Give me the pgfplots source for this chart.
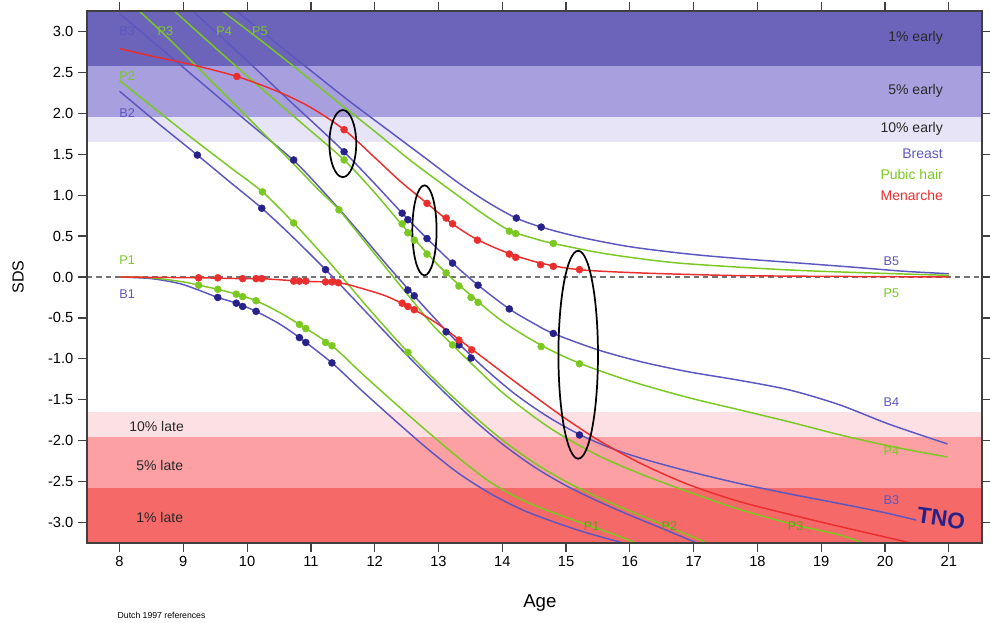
\documentclass[border=0pt]{standalone}
\usepackage{pgfplots}
\pgfplotsset{compat=1.18}
\usepackage{fontspec}
\setmainfont{Liberation Sans}

\definecolor{lineblue}{RGB}{92,86,192}
\definecolor{dotblue}{RGB}{38,34,138}
\definecolor{lgreen}{RGB}{122,200,32}
\definecolor{lred}{RGB}{234,46,46}
\definecolor{earlyA}{RGB}{108,100,186}
\definecolor{earlyB}{RGB}{168,160,222}
\definecolor{earlyC}{RGB}{230,228,246}
\definecolor{lateC}{RGB}{253,224,228}
\definecolor{lateB}{RGB}{252,160,164}
\definecolor{lateA}{RGB}{245,105,105}
\definecolor{bandtext}{RGB}{40,40,40}

\begin{document}
\begin{tikzpicture}
\begin{axis}[
  scale only axis, width=671.25pt, height=399pt,
  xmin=7.49, xmax=21.52, ymin=-3.25, ymax=3.25,
  axis on top,
  xtick={8,...,21}, ytick={-3,-2.5,...,3},
  yticklabel style={/pgf/number format/fixed, /pgf/number format/fixed zerofill, /pgf/number format/precision=1},
  /pgf/number format/assume math mode=true,
  tick align=outside, tick pos=both, major tick length=6.75pt,
  axis line style={draw=black!75, line width=1.1pt},
  tick style={black!75, line width=0.9pt},
  ticklabel style={font=\fontsize{11}{13}\selectfont},
  xlabel={Age}, ylabel={SDS},
  xlabel style={font=\fontsize{14}{16}\selectfont, at={(axis description cs:0.506,0)}, anchor=center, yshift=-45pt},
  ylabel style={font=\fontsize{12}{14}\selectfont, at={([xshift=-51.75pt]axis description cs:0,0.5)}, anchor=center},
  curve/.style={smooth, tension=0.5, line width=1.1pt, no marks},
  dots/.style={only marks, mark=*, mark size=2.6pt},
]
% reference bands
\addplot[fill=earlyA, draw=none] coordinates {(7.49,2.576) (21.52,2.576) (21.52,3.25) (7.49,3.25)} -- cycle;
\addplot[fill=earlyB, draw=none] coordinates {(7.49,1.96) (21.52,1.96) (21.52,2.576) (7.49,2.576)} -- cycle;
\addplot[fill=earlyC, draw=none] coordinates {(7.49,1.645) (21.52,1.645) (21.52,1.96) (7.49,1.96)} -- cycle;
\addplot[fill=lateC, draw=none] coordinates {(7.49,-1.645) (21.52,-1.645) (21.52,-1.96) (7.49,-1.96)} -- cycle;
\addplot[fill=lateB, draw=none] coordinates {(7.49,-1.96) (21.52,-1.96) (21.52,-2.576) (7.49,-2.576)} -- cycle;
\addplot[fill=lateA, draw=none] coordinates {(7.49,-2.576) (21.52,-2.576) (21.52,-3.25) (7.49,-3.25)} -- cycle;
\addplot[black!55, line width=1pt, dash pattern=on 4pt off 3pt] coordinates {(7.49,0) (21.52,0)};

% breast stages
\addplot[curve, lineblue] coordinates {(8,0) (8.5,-0.02) (8.94,-0.08) (9.24,-0.16) (9.54,-0.25) (9.83,-0.32) (10.14,-0.42) (10.5,-0.57) (10.82,-0.74) (11.33,-1.05) (11.8,-1.39) (12.3,-1.74) (12.8,-2.08) (13.3,-2.39) (13.8,-2.64) (14.3,-2.84) (14.8,-2.99) (15.3,-3.12) (15.9,-3.25)};
\addplot[curve, lineblue] coordinates {(8,2.27) (8.6,1.88) (9.22,1.49) (9.7,1.18) (10.23,0.84) (10.7,0.5) (11.23,0.09) (11.6,-0.21) (12.0,-0.54) (12.5,-0.95) (13.0,-1.34) (13.5,-1.71) (14.0,-2.04) (14.5,-2.32) (15.0,-2.55) (15.5,-2.74) (16.0,-2.91) (16.5,-3.07) (17.05,-3.25)};
\addplot[curve, lineblue] coordinates {(8,3.22) (9,2.56) (10,1.9) (10.72,1.43) (11.2,1.04) (11.7,0.6) (12.2,0.14) (12.7,-0.3) (13.2,-0.72) (13.7,-1.1) (14.2,-1.43) (14.7,-1.7) (15.2,-1.92) (15.7,-2.09) (16.2,-2.22) (16.9,-2.37) (17.7,-2.52) (18.5,-2.65) (19.3,-2.77) (20.0,-2.88) (20.49,-2.97)};
\addplot[curve, lineblue] coordinates {(9.15,3.25) (9.6,2.93) (10.1,2.57) (10.6,2.2) (11.1,1.84) (11.52,1.53) (12.0,1.14) (12.43,0.78) (12.82,0.47) (13.22,0.17) (13.62,-0.10) (14.11,-0.39) (14.5,-0.57) (14.80,-0.69) (15.5,-0.89) (16.2,-1.04) (16.93,-1.16) (17.7,-1.26) (18.5,-1.38) (19.28,-1.56) (20.07,-1.80) (20.98,-2.04)};
\addplot[curve, lineblue] coordinates {(9.83,3.25) (10.5,2.83) (11.0,2.52) (11.6,2.15) (12.2,1.8) (12.8,1.45) (13.33,1.14) (13.8,0.9) (14.22,0.72) (14.61,0.61) (15.2,0.49) (16.0,0.37) (16.93,0.28) (17.8,0.22) (18.66,0.17) (19.5,0.12) (20.3,0.07) (21,0.04)};

% pubic hair stages
\addplot[curve, lgreen] coordinates {(8,0) (8.5,-0.01) (9.0,-0.06) (9.24,-0.10) (9.54,-0.15) (9.83,-0.21) (10.14,-0.29) (10.5,-0.43) (10.82,-0.58) (11.33,-0.84) (11.8,-1.18) (12.3,-1.53) (12.8,-1.87) (13.3,-2.2) (13.8,-2.5) (14.3,-2.72) (14.8,-2.88) (15.3,-3.02) (15.7,-3.13) (16.1,-3.25)};
\addplot[curve, lgreen] coordinates {(8,2.4) (9,1.78) (9.7,1.36) (10.24,1.04) (10.73,0.66) (11.3,0.17) (11.9,-0.38) (12.52,-0.92) (13.0,-1.3) (13.5,-1.66) (14.0,-1.99) (14.5,-2.27) (15.0,-2.5) (15.5,-2.69) (16.0,-2.86) (16.5,-3.02) (17.0,-3.18) (17.2,-3.25)};
\addplot[curve, lgreen] coordinates {(8.31,3.25) (8.72,2.95) (9.2,2.58) (9.7,2.19) (10.2,1.8) (10.73,1.38) (11.1,1.08) (11.44,0.82) (11.95,0.33) (12.5,-0.2) (12.9,-0.58) (13.22,-0.83) (13.6,-1.12) (14.0,-1.41) (14.5,-1.71) (14.9,-1.92) (15.5,-2.18) (16.15,-2.4) (16.9,-2.62) (17.72,-2.84) (18.6,-3.03) (19.28,-3.15) (19.65,-3.25)};
\addplot[curve, lgreen] coordinates {(8.86,3.25) (9.5,2.8) (10.2,2.32) (10.9,1.85) (11.52,1.43) (12.0,1.03) (12.5,0.57) (13.0,0.14) (13.5,-0.22) (14.0,-0.54) (14.6,-0.83) (15.2,-1.05) (16.0,-1.27) (16.9,-1.47) (17.7,-1.62) (18.5,-1.77) (19.3,-1.93) (20.1,-2.07) (20.98,-2.2)};
\addplot[curve, lgreen] coordinates {(9.61,3.25) (10.2,2.9) (10.8,2.53) (11.4,2.15) (12.0,1.78) (12.6,1.4) (13.33,0.98) (13.7,0.77) (14.11,0.57) (14.5,0.47) (14.8,0.41) (15.5,0.3) (16.2,0.22) (16.93,0.16) (18.66,0.08) (21,0.02)};

% menarche
\addplot[curve, lred] coordinates {(8,2.79) (8.5,2.7) (9.1,2.6) (9.84,2.45) (10.5,2.26) (11.0,2.07) (11.52,1.80) (12.0,1.46) (12.4,1.17) (12.82,0.90) (13.2,0.66) (13.6,0.46) (14.1,0.29) (14.6,0.17) (15.2,0.09) (16.15,0.05) (17.5,0.02) (18.66,0.01) (21,0.0)};
\addplot[curve, lred] coordinates {(8,0) (9.24,-0.01) (9.93,-0.02) (10.23,-0.02) (10.82,-0.05) (11.43,-0.07) (11.8,-0.14) (12.2,-0.24) (12.62,-0.40) (13.0,-0.58) (13.52,-0.88) (14.2,-1.28) (14.9,-1.68) (15.5,-1.99) (16.15,-2.27) (16.9,-2.53) (17.7,-2.74) (18.5,-2.9) (19.3,-3.05) (20.41,-3.25)};

% observed points
\addplot[dots, dotblue] coordinates {(9.22,1.49) (10.23,0.84) (11.23,0.09) (10.73,1.43) (12.52,-0.16) (12.62,-0.23) (13.12,-0.67) (13.32,-0.83) (13.51,-0.99) (15.21,-1.93) (11.52,1.53) (12.43,0.78) (12.52,0.70) (12.82,0.47) (13.22,0.17) (13.62,-0.10) (14.11,-0.39) (14.80,-0.69) (14.22,0.72) (14.61,0.61) (9.54,-0.25) (9.83,-0.32) (9.93,-0.36) (10.14,-0.42) (10.82,-0.74) (10.92,-0.80) (11.33,-1.05)};
\addplot[dots, lgreen] coordinates {(9.24,-0.10) (9.54,-0.15) (9.83,-0.21) (9.93,-0.24) (10.14,-0.29) (10.82,-0.58) (10.92,-0.63) (11.23,-0.80) (11.33,-0.84) (10.24,1.04) (10.73,0.66) (12.52,-0.92) (11.44,0.82) (13.22,-0.83) (11.52,1.43) (12.43,0.65) (12.52,0.54) (12.62,0.45) (12.82,0.28) (13.12,0.05) (13.32,-0.11) (13.51,-0.25) (13.62,-0.31) (14.61,-0.85) (15.21,-1.06) (14.11,0.56) (14.21,0.53) (14.80,0.41)};
\addplot[dots, lred] coordinates {(9.84,2.45) (11.52,1.80) (12.82,0.90) (13.12,0.72) (13.22,0.65) (13.61,0.45) (14.11,0.28) (14.21,0.24) (14.60,0.15) (14.80,0.13) (15.21,0.09) (9.24,-0.01) (9.54,-0.01) (9.93,-0.02) (10.14,-0.02) (10.23,-0.02) (10.73,-0.05) (10.82,-0.05) (10.92,-0.05) (11.23,-0.06) (11.33,-0.06) (11.43,-0.07) (12.43,-0.32) (12.52,-0.36) (12.62,-0.40) (13.32,-0.77) (13.52,-0.89)};

% highlighted ages
\draw[black, line width=1.3pt] (axis cs:11.5,1.63) ellipse [x radius=0.21, y radius=0.41];
\draw[black, line width=1.3pt] (axis cs:12.78,0.57) ellipse [x radius=0.19, y radius=0.55];
\draw[black, line width=1.3pt] (axis cs:15.19,-0.95) ellipse [x radius=0.31, y radius=1.27];

% band and legend texts
\begin{scope}[every node/.style={font=\fontsize{10.5}{12}\selectfont, anchor=east}]
\node[text=bandtext] at (axis cs:20.98,2.92) {1\% early};
\node[text=bandtext] at (axis cs:20.98,2.28) {5\% early};
\node[text=bandtext] at (axis cs:20.98,1.81) {10\% early};
\node[text=lineblue] at (axis cs:20.98,1.50) {Breast};
\node[text=lgreen] at (axis cs:20.98,1.25) {Pubic hair};
\node[text=lred] at (axis cs:20.98,1.00) {Menarche};
\end{scope}
\begin{scope}[every node/.style={font=\fontsize{10.5}{12}\selectfont, anchor=west, text=bandtext}]
\node at (axis cs:8.08,-1.83) {10\% late};
\node at (axis cs:8.19,-2.30) {5\% late};
\node at (axis cs:8.19,-2.94) {1\% late};
\end{scope}

% curve labels
\begin{scope}[every node/.style={font=\fontsize{9.5}{11}\selectfont}]
\node[text=lineblue] at (axis cs:8.12,3.0) {B3};
\node[text=lgreen] at (axis cs:8.72,3.0) {P3};
\node[text=lgreen] at (axis cs:9.64,3.0) {P4};
\node[text=lgreen] at (axis cs:10.2,3.0) {P5};
\node[text=lgreen] at (axis cs:8.12,2.45) {P2};
\node[text=lineblue] at (axis cs:8.12,2.0) {B2};
\node[text=lgreen] at (axis cs:8.12,0.2) {P1};
\node[text=lineblue] at (axis cs:8.12,-0.21) {B1};
\node[text=lineblue] at (axis cs:20.1,0.19) {B5};
\node[text=lgreen] at (axis cs:20.1,-0.2) {P5};
\node[text=lineblue] at (axis cs:20.1,-1.53) {B4};
\node[text=lgreen] at (axis cs:20.1,-2.13) {P4};
\node[text=lineblue] at (axis cs:20.1,-2.73) {B3};
\node[text=lgreen!80!black] at (axis cs:15.4,-3.04) {P1};
\node[text=lgreen!80!black] at (axis cs:16.62,-3.04) {P2};
\node[text=lgreen!80!black] at (axis cs:18.6,-3.04) {P3};
\end{scope}
\node[text=dotblue, font=\bfseries\fontsize{17}{17}\selectfont, rotate=-8] at (axis cs:20.88,-2.95) {TNO};
\end{axis}
\node[anchor=west, font=\fontsize{6.5}{8}\selectfont] at (19.5pt,-54pt) {Dutch 1997 references};
\pgfresetboundingbox
\path[use as bounding box] (-65.25pt,-59.25pt) rectangle (677.25pt,407.25pt);
\end{tikzpicture}
\end{document}
